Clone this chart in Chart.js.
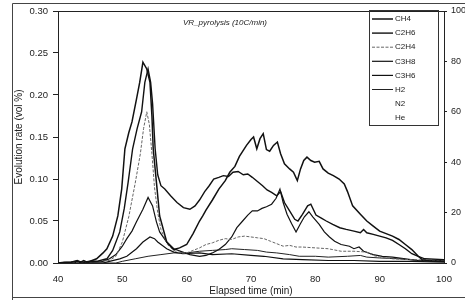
<!DOCTYPE html>
<html><head><meta charset="utf-8">
<script src="https://cdn.jsdelivr.net/npm/chart.js@4/dist/chart.umd.min.js"></script>
<style>html,body{margin:0;padding:0;background:#fff}#wrap{width:465px;height:300px;position:relative}</style>
</head><body><div id="wrap"><canvas id="c" width="465" height="300"></canvas></div>
<script>
// ---- data ----
const seriesNames = ["CH4","C2H6","C2H4","C3H8","C3H6","H2","N2","He"];
const yTickLabels = ["0.00","0.05","0.10","0.15","0.20","0.25","0.30"];
const xTickLabels = [40,50,60,70,80,90,100];
const y2TickLabels = [0,20,40,60,80,100];

const ch4T = [40,41,42,43,43.5,44,44.5,45,46,47,47.6,48.5,49.3,49.9,50.4,51,51.5,52.2,52.7,53.2,53.8,54.3,54.6,54.8,55.3,55.8,56.9,58,58.9,60,61,62,62.5,63,64,65,66,66.7,67.5,68.2,68.7,69.3,70,70.4,70.9,71.4,71.9,72.4,72.9,73.5,74.1,74.6,75.2,76,76.6,77.2,77.7,78.2,78.7,79.3,79.9,80.6,81.2,82,82.8,83.7,84.5,85,85.8,87,88,89,90,91,92,93,94,95,96,96.6,98,100];
const ch4V = [0,0.001,0.001,0.003,0.001,0.003,0.001,0.002,0.005,0.012,0.017,0.032,0.056,0.088,0.136,0.155,0.168,0.195,0.215,0.239,0.231,0.215,0.175,0.136,0.096,0.056,0.025,0.016,0.018,0.022,0.035,0.05,0.056,0.063,0.075,0.088,0.098,0.108,0.115,0.127,0.133,0.14,0.147,0.15,0.136,0.148,0.154,0.135,0.133,0.14,0.144,0.13,0.118,0.112,0.108,0.098,0.112,0.122,0.126,0.122,0.12,0.121,0.112,0.107,0.104,0.1,0.094,0.085,0.068,0.058,0.05,0.044,0.038,0.035,0.032,0.028,0.022,0.016,0.008,0.004,0.002,0.002];

const c2h6T = [40,42,43,44,45,46,47.6,48.5,49.6,50.3,50.9,51.6,52.3,53,53.5,54,54.4,54.7,55.1,55.5,56,56.6,57.5,58.5,59.5,60.5,61.3,62,62.8,63.5,64.2,65,65.7,66.5,67.2,68,68.8,69.5,70.2,71,71.8,72.5,73.2,74,74.6,75.2,76,76.8,77.3,78,78.8,79.3,80.1,81,81.7,82.7,83.8,84.8,86,87,87.5,88,89,90,91,92,93,94,95,96,97,100];
const c2h6V = [0,0.001,0.002,0.001,0.002,0.002,0.005,0.015,0.037,0.065,0.096,0.136,0.16,0.18,0.215,0.231,0.215,0.19,0.136,0.105,0.092,0.088,0.08,0.072,0.066,0.064,0.068,0.075,0.085,0.092,0.1,0.102,0.104,0.103,0.108,0.109,0.105,0.106,0.102,0.097,0.092,0.087,0.084,0.08,0.085,0.072,0.062,0.052,0.05,0.058,0.068,0.07,0.057,0.053,0.05,0.046,0.042,0.04,0.038,0.036,0.04,0.036,0.034,0.032,0.03,0.027,0.022,0.017,0.011,0.008,0.005,0.004];

const c2h4T = [40,44,46,48,49,50,51,52,52.8,53.3,53.8,54.2,54.6,55,55.5,56,57,58,59,60,61,62,63,64,65,66,67,68,69,70,71,72,73,74,75,76,77,78,80,82,84,86,88,89,90,92,95,100];
const c2h4V = [0,0.001,0.002,0.003,0.008,0.025,0.055,0.095,0.13,0.16,0.18,0.165,0.13,0.09,0.06,0.04,0.022,0.015,0.012,0.012,0.015,0.018,0.022,0.024,0.027,0.029,0.028,0.031,0.032,0.031,0.03,0.029,0.026,0.023,0.02,0.021,0.019,0.019,0.018,0.017,0.014,0.014,0.013,0.009,0.007,0.005,0.004,0.003];

const c3h8T = [40,45,47,48,49,50,50.7,51.5,52.2,53.2,54,54.7,55.3,55.8,56.9,58,59.4,60.5,62,63,64,65,66,67,67.8,68.7,69.5,70.2,71,71.7,72.4,73.2,73.9,74.5,75,75.6,76.3,77,77.7,78.3,79,79.6,80.6,81.4,82.2,83,84,85.3,86,86.8,87.5,89,90.4,92,94,96,100];
const c3h8V = [0,0.001,0.002,0.005,0.01,0.02,0.029,0.038,0.049,0.064,0.078,0.068,0.049,0.037,0.025,0.017,0.013,0.01,0.008,0.009,0.012,0.016,0.022,0.031,0.042,0.05,0.057,0.062,0.062,0.065,0.067,0.07,0.077,0.088,0.072,0.058,0.047,0.037,0.047,0.055,0.061,0.055,0.046,0.037,0.031,0.026,0.022,0.02,0.017,0.019,0.014,0.01,0.008,0.007,0.005,0.003,0.002];

const c3h6T = [40,47,48,49.6,50.7,52.2,53.2,54.3,55,55.5,56.9,58,59.4,62,64,67,70,72,75,78,82,86,90,95,100];
const c3h6V = [0,0,0.002,0.005,0.008,0.017,0.025,0.031,0.029,0.025,0.017,0.013,0.011,0.012,0.01,0.011,0.009,0.008,0.005,0.004,0.003,0.003,0.002,0.002,0.001];

const h2T = [40,49,50,52,54,56,58,60,62,64,66,67,69,71,72.4,74,76,77.5,80,82,85,87,88,90,93,96,100];
const h2V = [0,0,0.002,0.005,0.008,0.01,0.012,0.012,0.014,0.015,0.016,0.017,0.016,0.015,0.013,0.012,0.01,0.008,0.008,0.007,0.008,0.009,0.007,0.006,0.005,0.003,0.003];

const n2V = [];
const heV = [];

// ---- build ----
const FONT = "'Liberation Sans', Arial, Helvetica, sans-serif";
function pts(T, V){ const n = Math.min(T.length, V.length); const o=[]; for(let i=0;i<n;i++) o.push({x:T[i], y:V[i]}); return o; }

const seriesData = [pts(ch4T,ch4V), pts(c2h6T,c2h6V), pts(c2h4T,c2h4V), pts(c3h8T,c3h8V), pts(c3h6T,c3h6V), pts(h2T,h2V), n2V, heV];
const styles = [
  {c:'#111', w:1.5, d:[]},
  {c:'#111', w:1.4, d:[]},
  {c:'#666', w:1.0, d:[3,1.5]},
  {c:'#111', w:1.2, d:[]},
  {c:'#111', w:1.2, d:[]},
  {c:'#222', w:1.0, d:[]},
  null, null
];

const datasets = seriesNames.map((name,i)=>{
  const s = styles[i];
  return {
    label: name,
    data: seriesData[i],
    yAxisID: s ? 'y' : 'y2',
    borderColor: s ? s.c : 'rgba(0,0,0,0)',
    borderWidth: s ? s.w : 0,
    borderDash: s ? s.d : [],
    pointRadius: 0,
    tension: 0,
    fill: false
  };
});

const decor = {
  id:'decor',
  afterDraw(chart){
    const ctx = chart.ctx, a = chart.chartArea;
    ctx.save();
    // plot frame top
    ctx.strokeStyle = '#222'; ctx.lineWidth = 1;
    ctx.beginPath(); ctx.moveTo(a.left, a.top+0.5); ctx.lineTo(a.right, a.top+0.5); ctx.stroke();
    // scanned outer frame
    ctx.strokeStyle = '#444';
    ctx.beginPath();
    ctx.moveTo(12.5, 300); ctx.lineTo(12.5, 3.5); ctx.lineTo(465, 3.5);
    ctx.moveTo(12.5, 297.5); ctx.lineTo(465, 297.5);
    ctx.stroke();
    // title
    ctx.fillStyle = '#222';
    ctx.font = 'italic 8px ' + FONT;
    ctx.textAlign = 'left'; ctx.textBaseline = 'middle';
    ctx.fillText('VR_pyrolysis (10C/min)', 183, 23);
    // axis titles
    ctx.font = '10px ' + FONT;
    ctx.textAlign = 'center';
    ctx.fillText('Elapsed time (min)', (a.left+a.right)/2, 291);
    ctx.save();
    ctx.translate(19, (a.top+a.bottom)/2);
    ctx.rotate(-Math.PI/2);
    ctx.fillText('Evolution rate (vol %)', 0, 0);
    ctx.restore();
    // legend box
    ctx.strokeStyle = '#333'; ctx.lineWidth = 1;
    ctx.strokeRect(369.5, 10.5, 69, 115);
    ctx.font = '8px ' + FONT;
    ctx.textAlign = 'left';
    chart.data.datasets.forEach((ds,i)=>{
      const y = 19 + i*14.1;
      if (ds.borderWidth > 0) {
        ctx.strokeStyle = ds.borderColor; ctx.lineWidth = ds.borderWidth;
        ctx.setLineDash(ds.borderDash || []);
        ctx.beginPath(); ctx.moveTo(372, y); ctx.lineTo(393, y); ctx.stroke();
        ctx.setLineDash([]);
      }
      ctx.fillStyle = '#222';
      ctx.fillText(ds.label, 395, y);
    });
    ctx.restore();
  }
};

new Chart(document.getElementById('c'), {
  type: 'line',
  data: { datasets },
  options: {
    responsive: false,
    devicePixelRatio: 1,
    animation: false,
    layout: { padding: { top: 11, left: 0, right: 0, bottom: 0 } },
    plugins: { legend: { display: false }, title: { display: false }, tooltip: { enabled: false } },
    scales: {
      x: {
        type: 'linear', min: 40, max: 100,
        afterBuildTicks: s => { s.ticks = xTickLabels.map(v=>({value:v})); },
        afterFit: s => { s.height = 37; },
        grid: { drawOnChartArea: false, drawTicks: false },
        border: { display: true, color: '#222', width: 1 },
        ticks: { padding: 11, color: '#222', font: { family: FONT, size: 9.5 }, maxRotation: 0 }
      },
      y: {
        position: 'left', min: 0, max: 0.30,
        afterBuildTicks: s => { s.ticks = yTickLabels.map(v=>({value: parseFloat(v)})); },
        afterFit: s => { s.width = 58; },
        grid: { drawOnChartArea: false, tickLength: 5, color: '#222' },
        border: { display: true, color: '#222', width: 1 },
        ticks: { padding: 5, color: '#222', font: { family: FONT, size: 9.5 },
          callback: v => { const i = yTickLabels.findIndex(t=>Math.abs(parseFloat(t)-v)<1e-9); return i>=0 ? yTickLabels[i] : ''; } }
      },
      y2: {
        position: 'right', min: 0, max: 100,
        afterBuildTicks: s => { s.ticks = y2TickLabels.map(v=>({value:v})); },
        afterFit: s => { s.width = 21; },
        grid: { drawOnChartArea: false, tickLength: 3, color: '#222' },
        border: { display: true, color: '#222', width: 1 },
        ticks: { padding: 4, color: '#222', font: { family: FONT, size: 9 } }
      }
    }
  },
  plugins: [decor]
});
</script></body></html>
